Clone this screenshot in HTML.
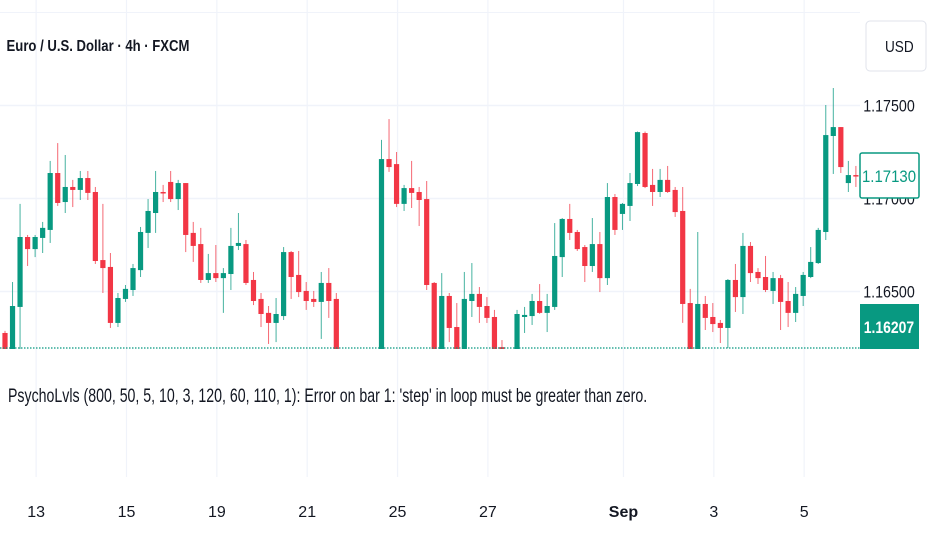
<!DOCTYPE html>
<html><head><meta charset="utf-8"><style>
html,body{margin:0;padding:0;background:#fff;width:932px;height:550px;overflow:hidden}
svg{display:block;font-family:"Liberation Sans",sans-serif}
</style></head><body>
<svg id="chart" width="932" height="550" viewBox="0 0 932 550">
<g id="grid"></g>
<g id="candles"></g>
<line x1="0" y1="348" x2="860" y2="348" stroke="#089981" stroke-width="1.2" stroke-dasharray="1.5,1.5"/>
<text x="8" y="51" font-size="16" font-weight="bold" fill="#131722" transform="scale(0.82,1)">Euro / U.S. Dollar · 4h · FXCM</text>
<rect x="866" y="21" width="60" height="50" rx="4" fill="#fff" stroke="#e0e3eb"/>
<text x="885" y="52" font-size="16" fill="#131722" transform="translate(885,0) scale(0.85,1) translate(-885,0)">USD</text>
<g id="yaxis"></g>
<rect x="860" y="153" width="59" height="45" rx="2" fill="#fff" stroke="#089981" stroke-width="1.5"/>
<text x="889" y="182" font-size="17" fill="#089981" text-anchor="middle" transform="translate(889,0) scale(0.88,1) translate(-889,0)">1.17130</text>
<rect x="860" y="304" width="59" height="45" fill="#089981"/>
<text x="889" y="333" font-size="17" fill="#fff" text-anchor="middle" font-weight="bold" transform="translate(889,0) scale(0.82,1) translate(-889,0)">1.16207</text>
<text x="8" y="402" font-size="19" fill="#131722" transform="translate(8,0) scale(0.745,1) translate(-8,0)">PsychoLvls (800, 50, 5, 10, 3, 120, 60, 110, 1): Error on bar 1: 'step' in loop must be greater than zero.</text>
<g id="xaxis"></g>
</svg>
<script>
const opens  = [1.16277,1.1615,1.16417,1.16793,1.16728,1.16788,1.16831,1.17137,1.16981,1.17062,1.17046,1.17110,1.17035,1.16669,1.16632,1.16331,1.16460,1.16508,1.16615,1.16815,1.16922,1.17035,1.17089,1.16997,1.17083,1.16815,1.16755,1.16562,1.16599,1.16572,1.16594,1.16745,1.16755,1.16562,1.16460,1.16385,1.16331,1.16368,1.16712,1.16589,1.16503,1.16460,1.16444,1.16546,1.16460,1.1605,1.1605,1.1605,1.1605,1.1605,1.1615,1.17212,1.17185,1.16971,1.17056,1.17035,1.16997,1.16546,1.1615,1.16476,1.16309,1.1615,1.16449,1.16487,1.16422,1.16363,1.16201,1.1605,1.1615,1.16363,1.16368,1.16449,1.16385,1.16417,1.16685,1.16890,1.16820,1.16739,1.16637,1.16755,1.16572,1.17008,1.16917,1.16960,1.17078,1.17352,1.17073,1.17035,1.17100,1.17046,1.16933,1.16438,1.1615,1.16433,1.16363,1.16331,1.16304,1.16562,1.16470,1.16745,1.16605,1.16578,1.16503,1.16572,1.16449,1.16385,1.16476,1.16578,1.16653,1.16820,1.17336,1.17384,1.17083,1.17126];
const highs  = [1.16288,1.16551,1.16971,1.16804,1.16804,1.16874,1.17202,1.17298,1.17234,1.17100,1.17148,1.17148,1.17062,1.16971,1.16707,1.16492,1.16535,1.16648,1.16847,1.16997,1.17148,1.17073,1.17148,1.17100,1.17083,1.16874,1.16842,1.16702,1.16750,1.16626,1.16842,1.16922,1.16777,1.16605,1.16492,1.16422,1.16465,1.16739,1.16718,1.16718,1.16551,1.16503,1.16605,1.16626,1.16492,1.1610,1.1610,1.1610,1.1610,1.1610,1.17315,1.17427,1.17250,1.17073,1.17202,1.17062,1.17094,1.16551,1.16599,1.16492,1.16438,1.16605,1.16653,1.16524,1.16470,1.16401,1.16239,1.1610,1.16401,1.16417,1.16487,1.16540,1.16487,1.16868,1.16895,1.16971,1.16831,1.16750,1.16895,1.16820,1.17083,1.17024,1.16976,1.17137,1.17360,1.17360,1.17159,1.17159,1.17175,1.17062,1.17062,1.16514,1.16820,1.16476,1.16438,1.16347,1.16567,1.16648,1.16815,1.16766,1.16626,1.16691,1.16605,1.16589,1.16551,1.16524,1.16605,1.16739,1.16842,1.17503,1.17594,1.17384,1.17202,1.17175];
const lows   = [1.1605,1.1605,1.1605,1.16637,1.16685,1.16707,1.16761,1.16960,1.16922,1.16954,1.16992,1.16992,1.16648,1.16492,1.16304,1.16309,1.16444,1.16476,1.16578,1.16734,1.16815,1.16981,1.16981,1.16938,1.16712,1.16659,1.16546,1.16546,1.16551,1.16385,1.16508,1.16723,1.16535,1.16427,1.16309,1.16218,1.16228,1.16347,1.16460,1.16470,1.16401,1.16417,1.16245,1.16358,1.1605,1.1595,1.1595,1.1595,1.1595,1.1595,1.1605,1.17143,1.16954,1.16933,1.16949,1.16852,1.16508,1.1605,1.1605,1.16228,1.1605,1.1605,1.16363,1.16331,1.16331,1.1605,1.1605,1.1595,1.1605,1.16277,1.16320,1.16380,1.16282,1.16401,1.16578,1.16777,1.16718,1.16551,1.16605,1.16497,1.16535,1.16804,1.16831,1.16879,1.17067,1.17056,1.16960,1.17008,1.17030,1.16901,1.16331,1.1605,1.1605,1.16293,1.16282,1.16223,1.16196,1.16390,1.16379,1.16551,1.16540,1.16497,1.16433,1.16293,1.16309,1.16336,1.16422,1.16572,1.16648,1.16777,1.17132,1.17137,1.17035,1.17062];
const closes = [1.1615,1.16422,1.16793,1.16728,1.16793,1.16842,1.17137,1.16976,1.17062,1.17046,1.17110,1.17030,1.16664,1.16626,1.16331,1.16465,1.16514,1.16626,1.16820,1.16933,1.17035,1.17030,1.16997,1.17083,1.16804,1.16745,1.16562,1.16599,1.16572,1.16599,1.16745,1.16761,1.16546,1.16449,1.16379,1.16331,1.16379,1.16712,1.16578,1.16497,1.16449,1.16444,1.16546,1.16449,1.1615,1.1600,1.1600,1.1600,1.1600,1.1600,1.17212,1.17169,1.16971,1.17056,1.17030,1.16992,1.16535,1.1615,1.16476,1.16304,1.1615,1.16460,1.16487,1.16417,1.16358,1.1615,1.1615,1.1600,1.16379,1.16374,1.16449,1.16385,1.16422,1.16691,1.16890,1.16815,1.16728,1.16637,1.16755,1.16572,1.17008,1.16831,1.16971,1.17083,1.17357,1.17062,1.17035,1.17100,1.17035,1.16927,1.16433,1.1615,1.16433,1.16358,1.16325,1.16304,1.16562,1.16470,1.16745,1.16599,1.16572,1.16508,1.16572,1.16444,1.16385,1.16487,1.16589,1.16659,1.16831,1.17341,1.17384,1.17169,1.17126,1.17121];
const priceTicks = [1.175, 1.170, 1.165];
const priceTickLabels = ["1.17500", "1.17000", "1.16500"];
const dateIdx = [4, 16, 28, 40, 52, 64, 82, 94, 106];
const dateLabels = ["13", "15", "19", "21", "25", "27", "Sep", "3", "5"];

const NS = "http://www.w3.org/2000/svg";
const PANE_TOP = 0, PANE_BOT = 349, PANE_RIGHT = 860;
function y(p){ return 105.5 + (1.175 - p) * 18600; }
function x(i){ return 5 + i * 7.53; }
function mk(tag, attrs, parent){ const e = document.createElementNS(NS, tag); for (const k in attrs) e.setAttribute(k, attrs[k]); parent.appendChild(e); return e; }

const grid = document.getElementById("grid");
const yaxis = document.getElementById("yaxis");
const xaxis = document.getElementById("xaxis");
const cg = document.getElementById("candles");

const tl = mk("line", {x1:0, x2:PANE_RIGHT, y1:y(1.180), y2:y(1.180), stroke:"#f0f3fa"}, grid);


priceTicks.forEach((p, k) => {
  const l = mk("line", {x1:0, x2:PANE_RIGHT, y1:y(p), y2:y(p), stroke:"#f0f3fa", "stroke-width":1.5}, grid);
  
  
  const t = mk("text", {x:889, y:y(p)+6, "font-size":17, fill:"#131722", "text-anchor":"middle", transform:"translate(889,0) scale(0.84,1) translate(-889,0)"}, yaxis);
  t.textContent = priceTickLabels[k];
  
  
});
dateIdx.forEach((i, k) => {
  const gx = x(i) + 1;
  const l = mk("line", {x1:gx, x2:gx, y1:0, y2:477, stroke:"#f0f3fa", "stroke-width":1.2}, grid);
  
  
  const t = mk("text", {x:gx, y:517, "font-size":16, fill:"#131722", "text-anchor":"middle", "font-weight": dateLabels[k]==="Sep" ? "bold" : "normal"}, xaxis);
  t.textContent = dateLabels[k];
  
  
});

const defs = mk("defs", {}, document.getElementById("chart"));
const cp = mk("clipPath", {id:"pane"}, defs);
mk("rect", {x:0, y:PANE_TOP, width:PANE_RIGHT, height:PANE_BOT-PANE_TOP}, cp);
cg.setAttribute("clip-path", "url(#pane)");

opens.forEach((o, i) => {
  const c = closes[i], up = c >= o;
  const col = up ? "#089981" : "#f23645";
  const cx = x(i);
  const w = mk("line", {x1:cx, x2:cx, y1:y(highs[i]), y2:y(lows[i]), stroke:col, "stroke-width":1, opacity:0.75}, cg);
  
  
  const top = y(Math.max(o, c)), bot = y(Math.min(o, c));
  const b = mk("rect", {x:cx-2.6, y:top, width:5.2, height:Math.max(1.5, bot-top), fill:col}, cg);
  
  
});
</script>
</body></html>
